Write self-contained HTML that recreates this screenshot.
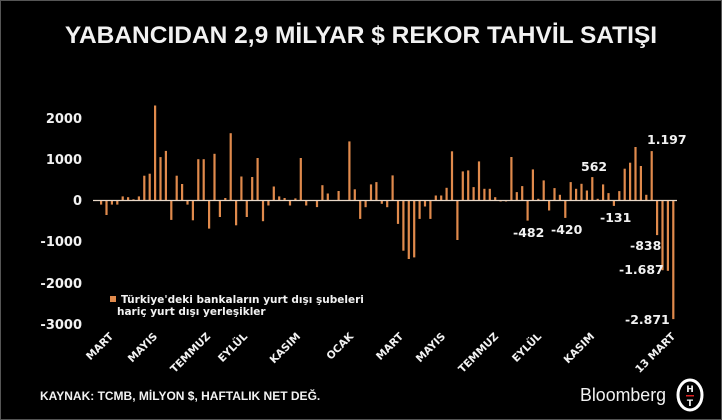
<!DOCTYPE html>
<html><head><meta charset="utf-8"><style>
html,body{margin:0;padding:0;background:#000;}
svg{display:block;}
text{font-family:"DejaVu Sans","Liberation Sans",sans-serif;font-weight:bold;fill:#f2f2f2;}
</style></head><body>
<svg id="c" width="722" height="420" xmlns="http://www.w3.org/2000/svg">
<rect x="0" y="0" width="722" height="420" fill="#000"/>
<rect x="0.5" y="0.5" width="721" height="419" fill="none" stroke="#555" stroke-width="1"/>
<text x="361" y="43" text-anchor="middle" font-size="24.5" fill="#e6e6e6" style="font-family:'Liberation Sans',sans-serif">YABANCIDAN 2,9 MİLYAR $ REKOR TAHVİL SATIŞI</text>
<g font-size="13" text-anchor="end">
<text x="82" y="123">2000</text>
<text x="82" y="164">1000</text>
<text x="82" y="205">0</text>
<text x="82" y="246">-1000</text>
<text x="82" y="288">-2000</text>
<text x="82" y="329">-3000</text>
</g>
<g id="bars" fill="#e08a4c"></g>
<line x1="93" y1="200.5" x2="677" y2="200.5" stroke="#e8d8c8" stroke-width="1.2"/>
<g font-size="12.5">
<text x="647" y="144">1.197</text>
<text x="581" y="171">562</text>
<text x="513" y="237">-482</text>
<text x="551" y="234">-420</text>
<text x="600" y="222">-131</text>
<text x="630" y="250">-838</text>
<text x="619" y="274">-1.687</text>
<text x="625" y="324">-2.871</text>
</g>
<rect x="110" y="296" width="6" height="6" fill="#e08a4c"/>
<text x="121" y="303" font-size="10.5">Türkiye'deki bankaların yurt dışı şubeleri</text>
<text x="117" y="315" font-size="10.5">hariç yurt dışı yerleşikler</text>
<g font-size="10.5" text-anchor="end">
<text transform="translate(114,337) rotate(-45)">MART</text>
<text transform="translate(158,337) rotate(-45)">MAYIS</text>
<text transform="translate(211,337) rotate(-45)">TEMMUZ</text>
<text transform="translate(248,337) rotate(-45)">EYLÜL</text>
<text transform="translate(301,337) rotate(-45)">KASIM</text>
<text transform="translate(354,337) rotate(-45)">OCAK</text>
<text transform="translate(404,337) rotate(-45)">MART</text>
<text transform="translate(446,337) rotate(-45)">MAYIS</text>
<text transform="translate(499,337) rotate(-45)">TEMMUZ</text>
<text transform="translate(542,337) rotate(-45)">EYLÜL</text>
<text transform="translate(595,337) rotate(-45)">KASIM</text>
<text transform="translate(676,337) rotate(-45)">13 MART</text>
</g>
<text x="40" y="400" font-size="12" style="font-family:'Liberation Sans',sans-serif">KAYNAK: TCMB, MİLYON $, HAFTALIK NET DEĞ.</text>
<text x="580" y="401" font-size="18" textLength="86" lengthAdjust="spacingAndGlyphs" style="font-family:'Liberation Sans',sans-serif;font-weight:normal" fill="#fff">Bloomberg</text>
<ellipse cx="690" cy="395" rx="12" ry="15" fill="none" stroke="#fff" stroke-width="3"/>
<text x="690" y="392" font-size="9" text-anchor="middle" fill="#fff">H</text>
<rect x="686" y="395" width="8" height="1.5" fill="#d22"/>
<text x="690" y="406" font-size="9" text-anchor="middle" fill="#fff">T</text>
</svg>
<script>
var a=[0,-1,-3.5,-1,-1,1,0.8,0.3,1,6,6.5,23,10.5,12,-4.7,6,4,-1,-4.8,10,10,-6.8,11.3,-4,0.6,16.3,-6,5.8,-4,5.7,10.3,-5,-1.2,3.4,1,0.6,-1.2,0.5,10.3,-1.2,0,-1.6,3.7,1.7,0,2.3,0.1,14.3,2.7];
var b=[-55,-20,48,55,-10,-20,75,-70,-150,-175,-170,-55,-18,-55,15,15,38,147,-118,87,90,40,117,35,35,10,-3,-3,130,25,43,-60,93,5,60,-30,37,17,-52,55,35,50,30,70,5,48,22,-16,28,95,113,160,103,17,148,-104,-22,-210,-356];
var v=a.map(function(x){return x*100;}).concat(b.map(function(x){return x*8.1;}));
v[v.length-1]=-2871;v[v.length-3]=-1687;v[v.length-4]=-838;v[v.length-5]=1197;
var n=v.length,x0=95.7,x1=673.3,s=(x1-x0)/(n-1),g=document.getElementById('bars'),h='';
for(var i=0;i<n;i++){var hh=v[i]*0.0413,x=x0+i*s-1.1;
h+='<rect x="'+x.toFixed(1)+'" y="'+(hh>0?200.5-hh:200.5).toFixed(1)+'" width="2.2" height="'+Math.abs(hh).toFixed(1)+'"/>';}
g.innerHTML=h;
</script>
</body></html>
